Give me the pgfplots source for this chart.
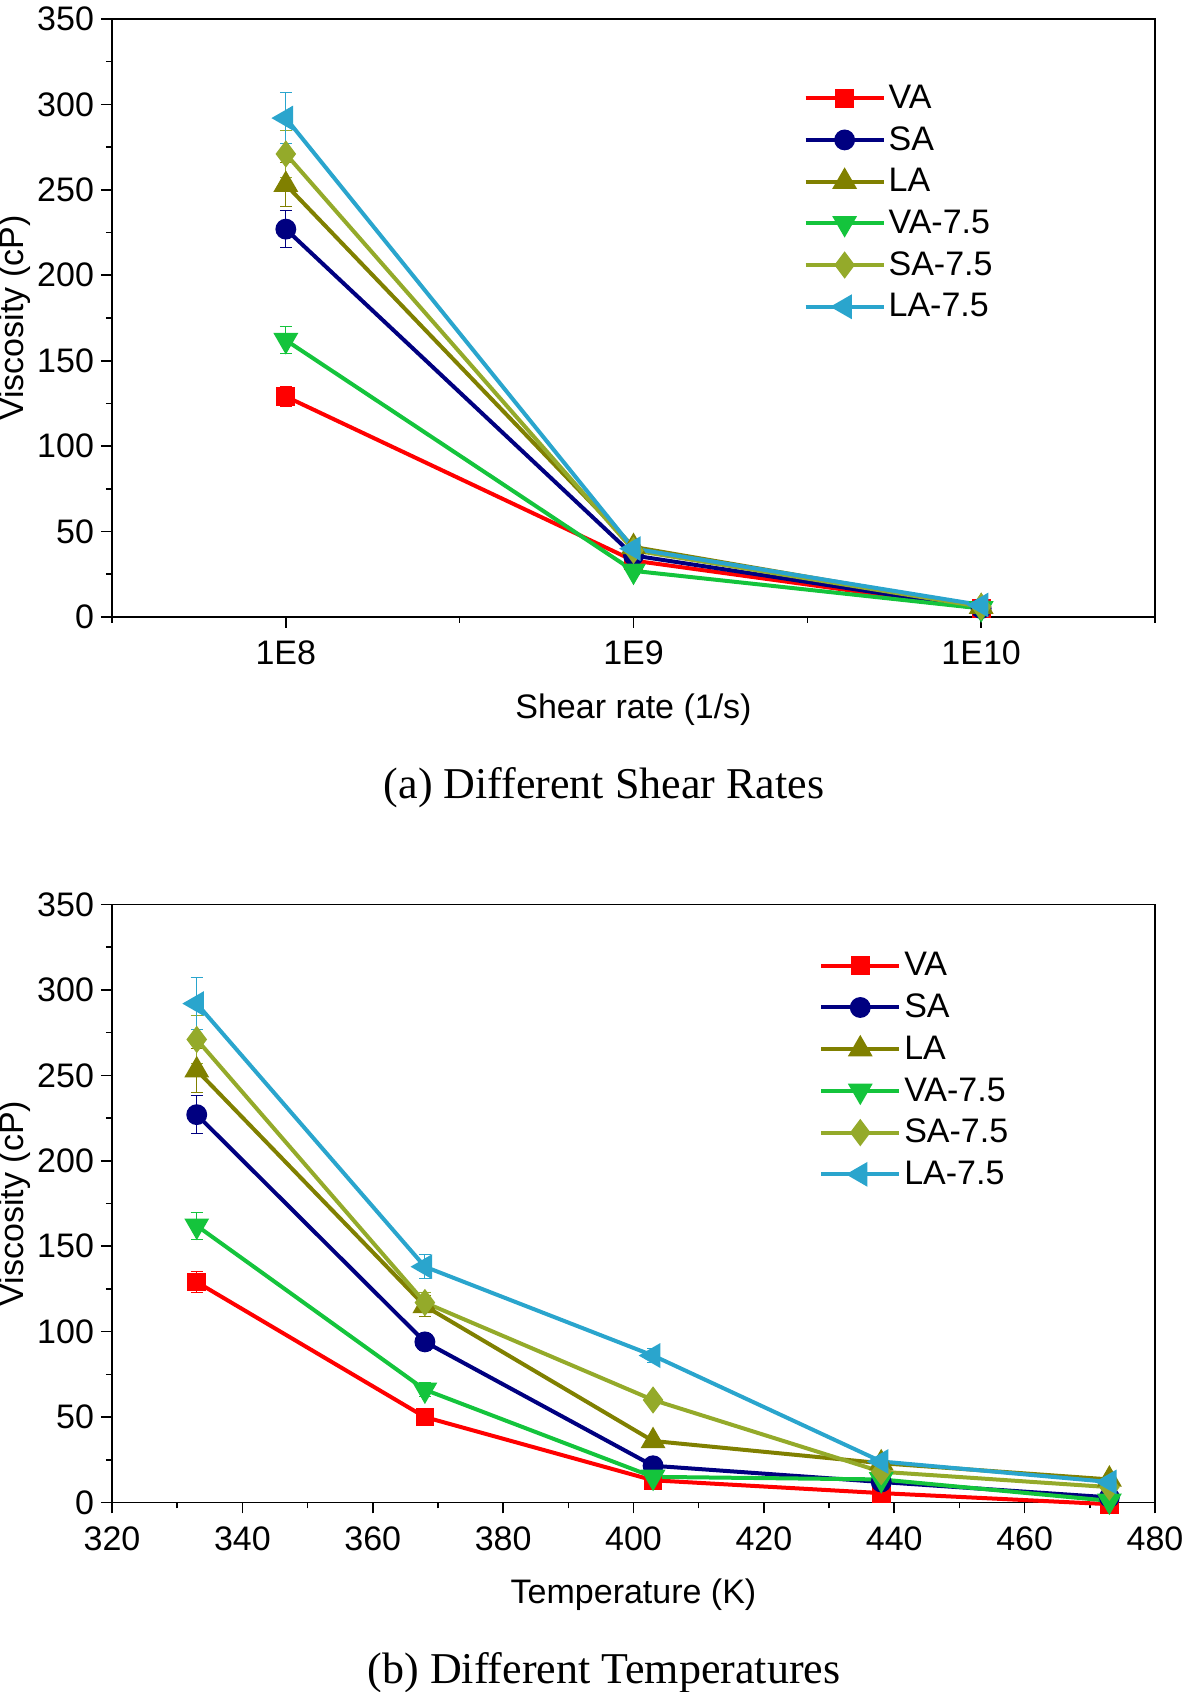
\documentclass[border=0pt]{standalone}
\usepackage{pgfplots}
\pgfplotsset{compat=1.18}
\usepackage{fontspec}
\setmainfont{Liberation Sans}
\newfontfamily\seriffont{Liberation Serif}
\definecolor{cVA}{RGB}{255,0,0}
\definecolor{cSA}{RGB}{0,0,128}
\definecolor{cLA}{RGB}{128,128,0}
\definecolor{cVAs}{RGB}{20,196,60}
\definecolor{cSAs}{RGB}{148,170,42}
\definecolor{cLAs}{RGB}{42,165,205}
\newcommand{\tfont}{\fontsize{17bp}{20bp}\selectfont}
\newcommand{\cfont}{\seriffont\fontsize{22bp}{24bp}\selectfont}

\pgfplotstableread{
x   VA  eVA  SA  eSA  LA  eLA  VAs eVAs SAs eSAs LAs eLAs
8   129 6    227 11   253 13   162 8    271 14   292 15
9   33  2    36  2    41  2    27  2    39  2    40  2
10  5   0.5  5   0.5  6   0.5  5   0.5  6   0.5  7   0.5
}\shear
\pgfplotstableread{
x   VA   eVA  SA   eSA  LA   eLA  VAs  eVAs SAs  eSAs LAs  eLAs
333 129  6    227  11   253  13   162  8    271  14   292  15
368 50   3    94   5    115  6    66   4    117  6    138  7
403 13   1    21.5 1.5  36   2    15   1    60   3    86   4
438 5.5  0.5  12   1    23   1.5  13.5 1    18   1    24   1.5
473 -1   0.3  3    0.3  13.5 1    1    0.3  9    0.5  12   1
}\temp

\pgfplotsset{
  myaxis/.style={
    scale only axis, width=521.5bp, height=299bp,
    ymin=0, ymax=350, ytick={0,50,...,350}, minor y tick num=1,
    tick align=outside, xtick pos=left, ytick pos=left,
    major tick length=5.5bp, minor tick length=3bp,
    every tick/.style={black, line width=0.8bp},
    axis line style={line width=0.8bp},
    tick label style={font=\tfont},
    xticklabel style={yshift=-3bp},
    /pgf/number format/assume math mode=true,
    label style={font=\tfont},
    ylabel={Viscosity (cP)},
    ylabel style={at={(axis description cs:-0.093,0.5)}, anchor=center},
    xlabel style={at={(axis description cs:0.5,-0.155)}, anchor=center},
    clip=false,
    legend cell align=left,
    legend style={draw=none, fill=none, font=\tfont, anchor=north west, row sep=4.6bp,
      nodes={inner sep=1.5bp}},
    legend image code/.code={\draw[mark repeat=2,mark phase=2] plot coordinates {(0bp,0bp) (19.5bp,0bp) (39bp,0bp)};},
    every axis plot/.append style={line width=2bp},
    error bars/y dir=both, error bars/y explicit,
    error bars/error bar style={line width=0.5bp},
    error bars/error mark options={rotate=90, mark size=3bp, line width=0.5bp},
  },
  sVA/.style={color=cVA, mark=square*, mark size=3.7bp, mark options={solid}},
  sSA/.style={color=cSA, mark=*, mark size=4.2bp},
  sLA/.style={color=cLA, mark=triangle*, mark size=5.2bp},
  sVAs/.style={color=cVAs, mark=triangle*, mark size=5.2bp, mark options={rotate=180}},
  sSAs/.style={color=cSAs, mark=diamond*, mark size=5.2bp},
  sLAs/.style={color=cLAs, mark=triangle*, mark size=5.2bp, mark options={rotate=90}},
}

\begin{document}
\begin{tikzpicture}
\useasboundingbox (0,0) rectangle (591.5bp,846bp);
\begin{axis}[myaxis, at={(56bp,537.5bp)}, anchor=south west,
  xmin=7.5, xmax=10.5, xtick={8,9,10}, xticklabels={1E8,1E9,1E10},
  minor xtick={7.5,8.5,9.5,10.5},
  xlabel={Shear rate (1/s)},
  legend style={at={(axis description cs:0.657,0.902)}}]
\addplot[sVA]  table[x=x, y=VA,  y error=eVA]  {\shear}; \addlegendentry{VA}
\addplot[sSA]  table[x=x, y=SA,  y error=eSA]  {\shear}; \addlegendentry{SA}
\addplot[sLA]  table[x=x, y=LA,  y error=eLA]  {\shear}; \addlegendentry{LA}
\addplot[sVAs] table[x=x, y=VAs, y error=eVAs] {\shear}; \addlegendentry{VA-7.5}
\addplot[sSAs] table[x=x, y=SAs, y error=eSAs] {\shear}; \addlegendentry{SA-7.5}
\addplot[sLAs] table[x=x, y=LAs, y error=eLAs] {\shear}; \addlegendentry{LA-7.5}
\end{axis}
\node[font=\cfont] at (302bp,452bp) {(a) Different Shear Rates};
\begin{axis}[myaxis, at={(56bp,94.75bp)}, anchor=south west,
  xmin=320, xmax=480, xtick={320,340,...,480}, minor x tick num=1,
  xlabel={Temperature (K)},
  legend style={at={(axis description cs:0.672,0.932)}}]
\addplot[sVA]  table[x=x, y=VA,  y error=eVA]  {\temp}; \addlegendentry{VA}
\addplot[sSA]  table[x=x, y=SA,  y error=eSA]  {\temp}; \addlegendentry{SA}
\addplot[sLA]  table[x=x, y=LA,  y error=eLA]  {\temp}; \addlegendentry{LA}
\addplot[sVAs] table[x=x, y=VAs, y error=eVAs] {\temp}; \addlegendentry{VA-7.5}
\addplot[sSAs] table[x=x, y=SAs, y error=eSAs] {\temp}; \addlegendentry{SA-7.5}
\addplot[sLAs] table[x=x, y=LAs, y error=eLAs] {\temp}; \addlegendentry{LA-7.5}
\end{axis}
\node[font=\cfont] at (302bp,9.5bp) {(b) Different Temperatures};
\end{tikzpicture}
\end{document}
